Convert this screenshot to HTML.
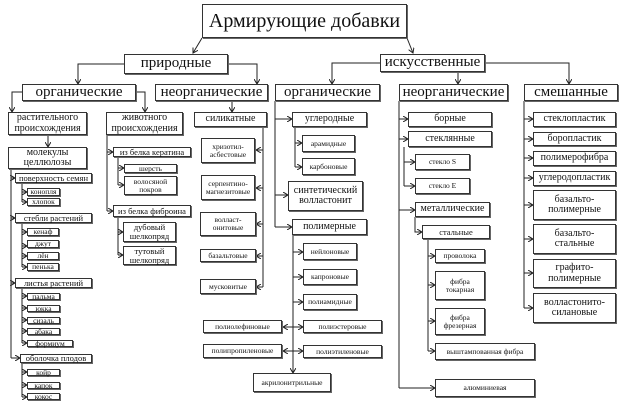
<!DOCTYPE html>
<html><head><meta charset="utf-8"><style>
body{margin:0;width:623px;height:406px;background:#fff;position:relative;overflow:hidden;font-family:"Liberation Serif",serif;color:#111}
.b{position:absolute;border:1px solid #333;box-shadow:1px 1px 0 #666;background:#fff;display:flex;align-items:center;justify-content:center;text-align:center;line-height:1.05;box-sizing:border-box;white-space:nowrap;font-size:9px}
.l1{font-size:15px}.l2{font-size:15px}.m{font-size:10px}.s{font-size:8.5px}.t{font-size:7.5px}
svg{position:absolute;left:0;top:0}
</style></head><body>
<svg width="623" height="406" fill="none" stroke="#222" stroke-width="1">
<defs><marker id="a" markerWidth="6" markerHeight="6" refX="5" refY="3" orient="auto" markerUnits="userSpaceOnUse"><path d="M0,0 L5,3 L0,6" fill="none" stroke="#222"/></marker></defs>
<g marker-end="url(#a)">
<path d="M202,38 L193,53"/><path d="M407,38 L413,53"/>
<path d="M124,64 H78 V84"/><path d="M228,64 H257 V84"/>
<path d="M380,63 H332 V84"/><path d="M458,72 V84"/><path d="M485,63 H569 V84"/>
<path d="M22,92 H12 V112"/><path d="M136,92 H145 V112"/>
<path d="M232,101 V112"/><path d="M48,135 V147"/>
<path d="M11,178 H15"/><path d="M11,218 H15"/><path d="M11,283 H15"/><path d="M11,358 H20"/>
<path d="M22,192 H27"/><path d="M22,202 H27"/>
<path d="M22,232 H27"/><path d="M22,246 H27"/><path d="M22,256 H27"/><path d="M22,267 H27"/>
<path d="M22,296 H27"/><path d="M22,308 H27"/><path d="M22,320 H27"/><path d="M22,331 H27"/><path d="M22,343 H27"/>
<path d="M22,372 H27"/><path d="M22,385 H27"/><path d="M22,397 H27"/>
<path d="M107,152 H113"/><path d="M107,211 H113"/>
<path d="M118,168 H124"/><path d="M118,185 H124"/><path d="M118,232 H123"/><path d="M118,255 H123"/>
<path d="M263,150 H256"/><path d="M263,188 H256"/><path d="M263,224 H256"/><path d="M263,256 H256"/><path d="M263,287 H256"/>
<path d="M275,119 H292"/><path d="M275,195 H288"/><path d="M275,227 H292"/>
<path d="M295,143 H302"/><path d="M295,167 H302"/>
<path d="M293,235 V373"/>
<path d="M293,252 H303"/><path d="M293,277 H303"/><path d="M293,302 H303"/><path d="M293,327 H303"/><path d="M293,351 H303"/>
<path d="M293,327 H283"/><path d="M293,351 H283"/>
<path d="M399,119 H408"/><path d="M399,139 H408"/><path d="M399,210 H415"/><path d="M399,388 H435"/>
<path d="M404,162 H415"/><path d="M404,186 H415"/>
<path d="M415,217 V232 H422"/>
<path d="M428,256 H435"/><path d="M428,285 H435"/><path d="M428,321 H435"/><path d="M428,351 H435"/>
<path d="M524,119 H533"/><path d="M524,139 H533"/><path d="M524,158 H533"/><path d="M524,178 H533"/><path d="M524,205 H533"/><path d="M524,239 H533"/><path d="M524,273 H533"/><path d="M524,308 H533"/>
</g>
<path d="M11,169 V358"/><path d="M22,183 V202"/><path d="M22,223 V267"/><path d="M22,288 V343"/><path d="M22,363 V397"/>
<path d="M107,135 V211"/><path d="M118,157 V185"/><path d="M118,217 V255"/>
<path d="M263,127 V287"/><path d="M275,101 V227"/><path d="M295,127 V167"/>
<path d="M399,101 V388"/><path d="M404,147 V186"/><path d="M428,239 V351"/><path d="M524,101 V308"/>
</svg>

<div class="b" style="left:202px;top:4px;width:205px;height:34px;font-size:20px">Армирующие добавки</div>
<div class="b l1" style="left:124px;top:54px;width:104px;height:20px">природные</div>
<div class="b l1" style="left:380px;top:54px;width:105px;height:18px">искусственные</div>
<div class="b l2" style="left:22px;top:84px;width:114px;height:17px">органические</div>
<div class="b l2" style="left:155px;top:84px;width:113px;height:17px">неорганические</div>
<div class="b l2" style="left:275px;top:84px;width:105px;height:17px">органические</div>
<div class="b l2" style="left:399px;top:84px;width:109px;height:17px">неорганические</div>
<div class="b l2" style="left:524px;top:84px;width:94px;height:17px">смешанные</div>

<div class="b m" style="left:8px;top:112px;width:79px;height:23px">растительного<br>происхождения</div>
<div class="b m" style="left:106px;top:112px;width:77px;height:23px">животного<br>происхождения</div>
<div class="b m" style="left:194px;top:112px;width:73px;height:15px">силикатные</div>
<div class="b m" style="left:8px;top:147px;width:79px;height:22px">молекулы<br>целлюлозы</div>
<div class="b s" style="left:15px;top:173px;width:77px;height:10px">поверхность семян</div>
<div class="b t" style="left:27px;top:188px;width:33px;height:8px">конопля</div>
<div class="b t" style="left:27px;top:198px;width:33px;height:8px">хлопок</div>
<div class="b s" style="left:15px;top:213px;width:77px;height:10px">стебли растений</div>
<div class="b t" style="left:27px;top:228px;width:32px;height:8px">кенаф</div>
<div class="b t" style="left:27px;top:240px;width:32px;height:8px">джут</div>
<div class="b t" style="left:27px;top:252px;width:32px;height:8px">лён</div>
<div class="b t" style="left:27px;top:263px;width:32px;height:8px">пенька</div>
<div class="b s" style="left:15px;top:278px;width:77px;height:10px">листья растений</div>
<div class="b t" style="left:27px;top:293px;width:33px;height:7px">пальма</div>
<div class="b t" style="left:27px;top:305px;width:33px;height:7px">юкка</div>
<div class="b t" style="left:27px;top:317px;width:33px;height:7px">сизаль</div>
<div class="b t" style="left:27px;top:328px;width:33px;height:7px">абака</div>
<div class="b t" style="left:27px;top:340px;width:46px;height:7px">формиум</div>
<div class="b s" style="left:20px;top:354px;width:72px;height:9px">оболочка плодов</div>
<div class="b t" style="left:27px;top:369px;width:33px;height:7px">койр</div>
<div class="b t" style="left:27px;top:382px;width:33px;height:7px">капок</div>
<div class="b t" style="left:27px;top:393px;width:33px;height:7px">кокос</div>

<div class="b s" style="left:113px;top:147px;width:78px;height:10px">из белка кератина</div>
<div class="b t" style="left:124px;top:164px;width:53px;height:9px">шерсть</div>
<div class="b t" style="left:124px;top:176px;width:53px;height:19px">волосяной<br>покров</div>
<div class="b s" style="left:113px;top:205px;width:78px;height:12px">из белка фиброина</div>
<div class="b s" style="left:123px;top:222px;width:53px;height:20px">дубовый<br>шелкопряд</div>
<div class="b s" style="left:123px;top:246px;width:53px;height:19px">тутовый<br>шелкопряд</div>

<div class="b t" style="left:201px;top:138px;width:54px;height:25px">хризотил-<br>асбестовые</div>
<div class="b t" style="left:201px;top:175px;width:54px;height:25px">серпентино-<br>магнезитовые</div>
<div class="b t" style="left:200px;top:212px;width:56px;height:24px">волласт-<br>онитовые</div>
<div class="b t" style="left:200px;top:249px;width:56px;height:13px">базальтовые</div>
<div class="b t" style="left:200px;top:279px;width:56px;height:15px">мусковитые</div>

<div class="b m" style="left:292px;top:112px;width:75px;height:15px">углеродные</div>
<div class="b t" style="left:302px;top:135px;width:53px;height:17px">арамидные</div>
<div class="b t" style="left:302px;top:158px;width:53px;height:17px">карбоновые</div>
<div class="b m" style="left:288px;top:181px;width:75px;height:30px">синтетический<br>волластонит</div>
<div class="b m" style="left:292px;top:219px;width:75px;height:16px">полимерные</div>
<div class="b t" style="left:303px;top:243px;width:54px;height:17px">нейлоновые</div>
<div class="b t" style="left:303px;top:269px;width:54px;height:16px">капроновые</div>
<div class="b t" style="left:303px;top:294px;width:54px;height:16px">полиамидные</div>
<div class="b t" style="left:303px;top:320px;width:79px;height:13px">полиэстеровые</div>
<div class="b t" style="left:303px;top:345px;width:79px;height:13px">полиэтиленовые</div>
<div class="b t" style="left:203px;top:320px;width:79px;height:13px">полиолефиновые</div>
<div class="b t" style="left:203px;top:344px;width:79px;height:14px">полипропиленовые</div>
<div class="b t" style="left:253px;top:373px;width:78px;height:19px">акрилонитрильные</div>

<div class="b m" style="left:408px;top:112px;width:84px;height:15px">борные</div>
<div class="b m" style="left:408px;top:131px;width:84px;height:16px">стеклянные</div>
<div class="b t" style="left:415px;top:154px;width:55px;height:16px">стекло S</div>
<div class="b t" style="left:415px;top:178px;width:55px;height:16px">стекло E</div>
<div class="b m" style="left:415px;top:202px;width:75px;height:15px">металлические</div>
<div class="b s" style="left:422px;top:225px;width:68px;height:14px">стальные</div>
<div class="b t" style="left:435px;top:249px;width:50px;height:14px">проволока</div>
<div class="b t" style="left:435px;top:271px;width:50px;height:29px">фибра<br>токарная</div>
<div class="b t" style="left:435px;top:308px;width:50px;height:27px">фибра<br>фрезерная</div>
<div class="b t" style="left:435px;top:343px;width:100px;height:17px">выштампованная фибра</div>
<div class="b t" style="left:435px;top:379px;width:100px;height:18px">алюминиевая</div>

<div class="b m" style="left:533px;top:112px;width:83px;height:15px">стеклопластик</div>
<div class="b m" style="left:533px;top:132px;width:83px;height:14px">боропластик</div>
<div class="b m" style="left:533px;top:151px;width:83px;height:15px">полимерофибра</div>
<div class="b m" style="left:533px;top:171px;width:83px;height:15px">углеродопластик</div>
<div class="b m" style="left:533px;top:190px;width:83px;height:30px">базальто-<br>полимерные</div>
<div class="b m" style="left:533px;top:224px;width:83px;height:30px">базальто-<br>стальные</div>
<div class="b m" style="left:533px;top:259px;width:83px;height:29px">графито-<br>полимерные</div>
<div class="b m" style="left:533px;top:293px;width:83px;height:30px">волластонито-<br>силановые</div>
</body></html>
